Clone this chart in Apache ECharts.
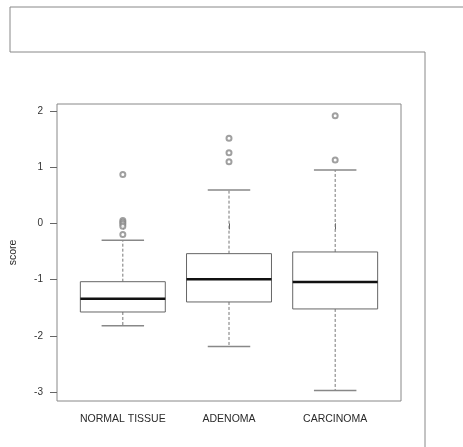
<!DOCTYPE html>
<html>
<head>
<meta charset="utf-8">
<script src="https://cdn.jsdelivr.net/npm/echarts@6/dist/echarts.min.js"></script>
<style>
  html, body { margin: 0; padding: 0; background: #fff; }
  #chart { width: 463px; height: 447px; }
</style>
</head>
<body>
<div id="chart"></div>
<script>
// box statistics
var categories = ['NORMAL TISSUE', 'ADENOMA', 'CARCINOMA'];
var whiskerLow = [-1.82, -2.185, -2.97];
var q1 = [-1.574, -1.396, -1.52];
var median = [-1.337, -0.994, -1.041];
var q3 = [-1.036, -0.538, -0.508];
var whiskerHigh = [-0.302, 0.593, 0.948];

// outliers per group
var normalOutliers = [0.87, 0.05, 0.02, -0.01, -0.05, -0.2];
var adenomaOutliers = [1.51, 1.256, 1.096];
var carcinomaOutliers = [1.913, 1.126];

var yTicks = [-3, -2, -1, 0, 1, 2];
var xTicks = [1, 2, 3];

var boxData = categories.map(function (c, i) {
    return [i + 1, whiskerLow[i], q1[i], median[i], q3[i], whiskerHigh[i]];
});
var outlierData = [];
[normalOutliers, adenomaOutliers, carcinomaOutliers].forEach(function (arr, i) {
    arr.forEach(function (v) { outlierData.push([i + 1, v]); });
});

function renderBox(params, api) {
    var x = api.value(0);
    var lo = api.coord([x, api.value(1)]);
    var b1 = api.coord([x, api.value(2)]);
    var md = api.coord([x, api.value(3)]);
    var b3 = api.coord([x, api.value(4)]);
    var hi = api.coord([x, api.value(5)]);
    var w = api.size([0.8, 0])[0];
    var cx = lo[0];
    var dash = { stroke: '#777', lineWidth: 1, lineDash: [3, 2] };
    var cap = { stroke: '#888', lineWidth: 1.5 };
    return {
        type: 'group',
        children: [
            { type: 'line', shape: { x1: cx, y1: b3[1], x2: cx, y2: hi[1] }, style: dash },
            { type: 'line', shape: { x1: cx, y1: b1[1], x2: cx, y2: lo[1] }, style: dash },
            { type: 'line', shape: { x1: cx - w / 4, y1: hi[1], x2: cx + w / 4, y2: hi[1] }, style: cap },
            { type: 'line', shape: { x1: cx - w / 4, y1: lo[1], x2: cx + w / 4, y2: lo[1] }, style: cap },
            { type: 'rect', shape: { x: cx - w / 2, y: b3[1], width: w, height: b1[1] - b3[1] },
              style: { fill: '#fff', stroke: '#666', lineWidth: 1 } },
            { type: 'line', shape: { x1: cx - w / 2, y1: md[1], x2: cx + w / 2, y2: md[1] },
              style: { stroke: '#111', lineWidth: 2.5 } }
        ]
    };
}

var chart = echarts.init(document.getElementById('chart'));
var font = "'Liberation Sans', Arial, sans-serif";

chart.setOption({
    animation: false,
    backgroundColor: '#fff',
    graphic: [
        { type: 'polyline', shape: { points: [[10, 7], [463, 7]] }, style: { stroke: '#888', lineWidth: 1, fill: null } },
        { type: 'polyline', shape: { points: [[10, 7], [10, 52], [425, 52], [425, 447]] },
          style: { stroke: '#888', lineWidth: 1, fill: null } }
    ],
    grid: {
        left: 56, right: 62, top: 104, bottom: 46,
        show: true, borderColor: '#888', borderWidth: 1, backgroundColor: 'transparent'
    },
    xAxis: {
        type: 'value',
        min: 0.38, max: 3.62,
        splitLine: { show: false },
        axisLine: { show: false },
        axisTick: { show: true, length: 6, customValues: xTicks, lineStyle: { color: '#666' } },
        axisLabel: {
            customValues: xTicks,
            margin: 13,
            color: '#2a2a2a', fontSize: 10.5, fontFamily: font,
            formatter: function (v) { return categories[Math.round(v) - 1]; }
        }
    },
    yAxis: {
        type: 'value',
        min: -3.155, max: 2.12,
        name: 'score',
        nameLocation: 'middle',
        nameGap: 38,
        nameTextStyle: { color: '#2a2a2a', fontSize: 10.5, fontFamily: font },
        splitLine: { show: false },
        axisLine: { show: false },
        axisTick: { show: true, length: 7, customValues: yTicks, lineStyle: { color: '#666' } },
        axisLabel: {
            customValues: yTicks,
            margin: 14,
            color: '#333', fontSize: 10, fontFamily: font
        }
    },
    series: [
        {
            type: 'custom',
            renderItem: renderBox,
            data: boxData,
            encode: { x: 0, y: [1, 2, 3, 4, 5] },
            z: 2
        },
        {
            type: 'scatter',
            data: outlierData,
            symbol: 'emptyCircle',
            symbolSize: 5,
            itemStyle: { color: '#888', borderWidth: 1.3 },
            z: 3
        }
    ]
});
</script>
</body>
</html>
